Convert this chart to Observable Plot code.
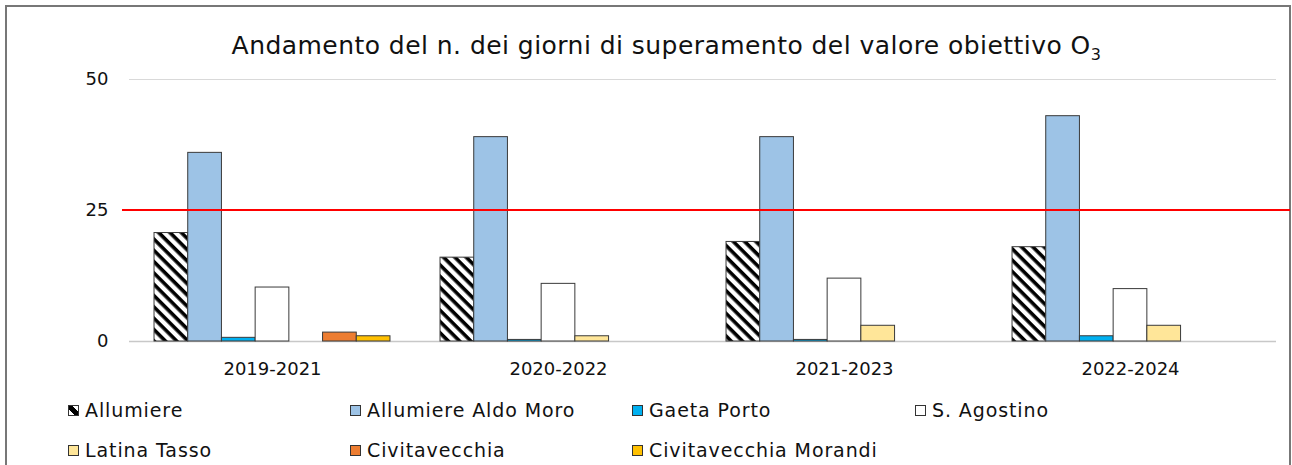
<!DOCTYPE html>
<html>
<head>
<meta charset="utf-8">
<script src="https://cdn.jsdelivr.net/npm/d3@7"></script>
<script src="https://cdn.jsdelivr.net/npm/@observablehq/plot@0.6"></script>
<style>
  html, body { margin: 0; padding: 0; background: #fff; }
  #wrap { position: relative; width: 1292px; height: 465px; overflow: hidden; font-family: "DejaVu Sans", sans-serif; color: #111; }
  #frame { position: absolute; left: 5px; top: 5px; width: 1286px; height: 480px; border: 2px solid #777; box-sizing: border-box; }
  #title { position: absolute; left: 0; width: 1333px; top: 31px; height: 30px; line-height: 30px; text-align: center; font-size: 25px; letter-spacing: 0.45px; color: #111; }
  #title sub { font-size: 16px; vertical-align: -6px; line-height: 0; }
  #chart { position: absolute; left: 0; top: 60px; }
  .leg { position: absolute; font-size: 19px; line-height: 22px; letter-spacing: 0.9px; white-space: nowrap; color: #111; }
  .leg .sw { position: absolute; left: 0; top: 6px; width: 9px; height: 9px; border: 1px solid #333; }
  .leg span.t { position: absolute; left: 17px; top: 0; }
</style>
</head>
<body>
<div id="wrap">
  <div id="frame"></div>
  <div id="title">Andamento del n. dei giorni di superamento del valore obiettivo O<sub>3</sub></div>
  <div id="chart"></div>
</div>
<script>
// ---- data ----
const periods = ["2019-2021", "2020-2022", "2021-2023", "2022-2024"];
const stations = ["Allumiere", "Allumiere Aldo Moro", "Gaeta Porto", "S. Agostino", "Latina Tasso", "Civitavecchia", "Civitavecchia Morandi"];
const allumiere = [20.7, 16, 19, 18];
const allumiereAldoMoro = [36, 39, 39, 43];
const gaetaPorto = [0.7, 0.3, 0.3, 1];
const sAgostino = [10.3, 11, 12, 10];
const latinaTasso = [null, 1, 3, 3];
const civitavecchia = [1.7, null, null, null];
const civitavecchiaMorandi = [1, null, null, null];
const yTicks = [0, 25, 50];
const threshold = [25];

// ---- styles ----
const fills = ["url(#hatch)", "#9DC3E6", "#00B0F0", "#FFFFFF", "#FFE699", "#ED7D31", "#FFC000"];
const swatches = [
  "linear-gradient(45deg, #fff 0 30%, #000 30% 70%, #fff 70% 100%)",
  "#9DC3E6", "#00B0F0", "#FFFFFF", "#FFE699", "#ED7D31", "#FFC000"
];

const seriesValues = [allumiere, allumiereAldoMoro, gaetaPorto, sAgostino, latinaTasso, civitavecchia, civitavecchiaMorandi];
const rows = [];
stations.forEach((s, i) => periods.forEach((p, j) => {
  const v = seriesValues[i][j];
  if (v != null) rows.push({station: s, idx: i, period: p, value: v});
}));

const width = 1292, height = 320;
const mL = 129, mR = 19;
const step = (width - mL - mR) / periods.length;
const groupGap = step * 0.175 / 2;
const barW = (step - 2 * groupGap) / stations.length;

const barMarks = stations.map((s, i) =>
  Plot.barY(rows.filter(d => d.idx === i), {
    x: "period", y: "value",
    fill: fills[i], stroke: "#3a3a3a", strokeWidth: 1,
    insetLeft: groupGap + i * barW,
    insetRight: groupGap + (stations.length - 1 - i) * barW
  })
);

const svg = Plot.plot({
  width, height,
  marginLeft: mL, marginRight: mR, marginTop: 19, marginBottom: 39,
  style: {fontFamily: "DejaVu Sans, sans-serif", fontSize: "18px", color: "#111", background: "transparent"},
  x: {domain: periods, padding: 0, tickSize: 0, tickPadding: 21, label: null},
  y: {domain: [0, 50], ticks: yTicks, tickSize: 0, tickPadding: 21, label: null},
  marks: [
    Plot.ruleY([25, 50], {stroke: "#d9d9d9", strokeWidth: 1, insetRight: -3}),
    Plot.ruleY([0], {stroke: "#c8c8c8", strokeWidth: 1.5, insetRight: -3}),
    ...barMarks,
    Plot.ruleY(threshold, {stroke: "#ff0000", strokeWidth: 2, insetLeft: -7, insetRight: -17, dy: -0.5})
  ]
});

d3.select(svg).insert("defs", ":first-child").html(
  '<pattern id="hatch" patternUnits="userSpaceOnUse" width="8" height="8" patternTransform="rotate(45)">' +
  '<rect width="8" height="8" fill="#fff"/><rect width="8" height="3.6" fill="#000"/></pattern>'
);
d3.select(svg).style("overflow", "visible");
document.getElementById("chart").appendChild(svg);

// ---- legend ----
const wrap = document.getElementById("wrap");
const colX = [68, 350, 632, 915];
const rowY = [399, 439];
stations.forEach((s, i) => {
  const el = document.createElement("div");
  el.className = "leg";
  el.style.left = colX[i % 4] + "px";
  el.style.top = rowY[Math.floor(i / 4)] + "px";
  const sw = document.createElement("div");
  sw.className = "sw";
  sw.style.background = swatches[i];
  const t = document.createElement("span");
  t.className = "t";
  t.textContent = s;
  el.appendChild(sw); el.appendChild(t);
  wrap.appendChild(el);
});
</script>
</body>
</html>
